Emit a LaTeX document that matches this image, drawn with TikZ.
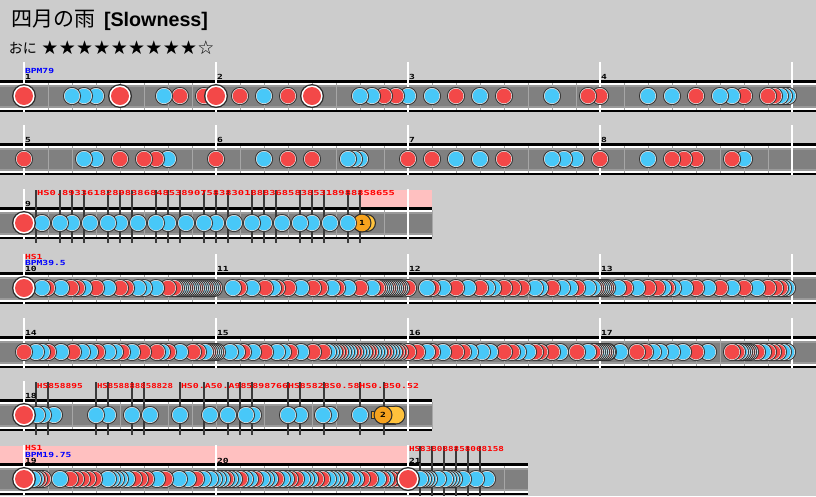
\documentclass[tikz,border=0pt]{standalone}
\usepackage{graphicx}
\usepackage{fontspec}
\setmainfont{Liberation Sans}
\newfontfamily\jpf{Noto Sans CJK JP}
\newfontfamily\symf{DejaVu Sans}
\newfontfamily\pixf{DejaVu Sans Mono}
\definecolor{bg}{HTML}{CCCCCC}
\definecolor{lanegray}{HTML}{808080}
\definecolor{laneedge}{HTML}{9A9A9A}
\definecolor{tick}{HTML}{A6A6A6}
\definecolor{R}{HTML}{F34848}
\definecolor{B}{HTML}{48C8F8}
\definecolor{rim}{HTML}{2E2E2E}
\definecolor{ring}{HTML}{DCDCDC}
\definecolor{pinkband}{HTML}{FFC0C0}
\definecolor{hsline}{HTML}{3A3A3A}
\definecolor{hsred}{HTML}{FF0000}
\definecolor{bpmblue}{HTML}{0000FF}
\definecolor{balhead}{HTML}{F6A21E}
\definecolor{balbody}{HTML}{FFC23C}
\newcommand\snote[3]{\fill[rim] (#1,#2) circle (9pt); \fill[ring] (#1,#2) circle (8.1pt); \fill[#3] (#1,#2) circle (7.3pt);}
\newcommand\bnote[3]{\fill[rim] (#1,#2) circle (12pt); \fill[white] (#1,#2) circle (10.6pt); \fill[#3] (#1,#2) circle (9pt);}
\newcommand\lanestrip[3]{%
  \fill[black] (#2,#1-16) rectangle (#3,#1-13.5);
  \fill[white] (#2,#1-13.5) rectangle (#3,#1-11.5);
  \fill[laneedge] (#2,#1-11.5) rectangle (#3,#1+11.5);
  \fill[lanegray] (#2,#1-9.5) rectangle (#3,#1+9.5);
  \fill[white] (#2,#1+11.5) rectangle (#3,#1+13.5);
  \fill[black] (#2,#1+13.5) rectangle (#3,#1+16);}
\newcommand\ticks[2]{\foreach \t in {48,72,...,#2} {\fill[tick] (\t-0.5,#1-13.5) rectangle (\t+0.5,#1+13.5);}}
\newcommand\barline[2]{\fill[white] (#1-1,#2-34) rectangle (#1+1,#2+16);}
\newcommand\densenotes[5]{\foreach \x in {#2,#3,...,#4} {\pgfmathtruncatemacro\k{mod(\x*7+#5,5)}\ifnum\k<2 \snote{\x}{#1}{R}\else\snote{\x}{#1}{B}\fi}}
\newcommand\pxt[1]{\scalebox{1.38}[1]{\pixf\bfseries\fontsize{7}{7}\selectfont #1}}
\newcommand\pxw[2]{\resizebox{#1pt}{5.1pt}{\pixf\bfseries\fontsize{7}{7}\selectfont #2}}
\tikzset{lbl/.style={anchor=base west, inner sep=0pt, outer sep=0pt}}
\begin{document}
\begin{tikzpicture}[x=1pt,y=-1pt]
\useasboundingbox (0,0) rectangle (816,496);
\fill[bg] (0,0) rectangle (816,496);
% header
\node[lbl, font=\jpf\fontsize{21}{21}\selectfont] (title) at (12,26) {四月の雨};
\node[lbl, font=\bfseries\fontsize{19.7}{20}\selectfont] (diff) at (104,26) {[Slowness]};
\node[inner sep=0pt, font=\jpf\fontsize{14}{14}\selectfont] (oni) at (23,48) {おに};
\foreach \i in {0,...,8} {\node[inner sep=0pt, font=\symf\fontsize{19}{19}\selectfont] (star\i) at (50+17.33*\i,48) {★};}
\node[inner sep=0pt, font=\symf\fontsize{19}{19}\selectfont] (star9) at (206,48) {☆};
% pink bands
\fill[pinkband] (361,190) rectangle (432,207);
\fill[pinkband] (0,446) rectangle (408,463);
% lanes
\lanestrip{96}{0}{816}\lanestrip{159}{0}{816}\lanestrip{223}{0}{432}
\lanestrip{288}{0}{816}\lanestrip{352}{0}{816}\lanestrip{415}{0}{432}\lanestrip{479}{0}{528}
\ticks{96}{816}\ticks{159}{816}\ticks{223}{432}\ticks{288}{816}\ticks{352}{816}\ticks{415}{432}\ticks{479}{504}
% bar lines
\foreach \yy in {96,159,288,352} {\foreach \bx in {24,216,408,600,792} {\barline{\bx}{\yy}}}
\barline{24}{223}\barline{408}{223}
\barline{24}{415}\barline{408}{415}
\barline{24}{479}\barline{216}{479}\barline{408}{479}
% HS markers
\foreach \hx in {36,60,72,84,108,120,132,156,168,180,204,216,228,252,264,276,300,312,324,348,360} {\fill[hsline] (\hx-1,190) rectangle (\hx+1,243);}
\foreach \hx in {36,48,96,108,132,144,180,204,228,240,252,288,300,324,360,384} {\fill[hsline] (\hx-1,382) rectangle (\hx+1,435);}
\foreach \hx in {420,432,444,456,468,480} {\fill[hsline] (\hx-1,446) rectangle (\hx+1,496);}
% row 1
\foreach \x/\c in {788/B,784/B,780/B,774/R,768/R,744/R,732/B,720/B,696/R,672/B,648/B,600/R,588/R,552/B,504/R,480/B,456/R,432/B,408/B,396/R,384/R,372/B,360/B,288/R,264/B,240/R,204/R,180/R,164/B,96/B,84/B,72/B} {\snote{\x}{96}{\c}}
\foreach \x in {312,216,120,24} {\bnote{\x}{96}{R}}
% row 2
\foreach \x/\c in {744/B,732/R,696/R,684/R,672/R,648/B,600/R,576/B,564/B,552/B,504/R,480/B,456/B,432/R,408/R,360/B,354/B,348/B,312/R,288/R,264/B,216/R,168/B,156/R,144/R,120/R,96/B,84/B,24/R} {\snote{\x}{159}{\c}}
% row 3
\fill[rim] (367,223) circle (9pt); \fill[balbody] (367,223) circle (7.8pt);
\fill[rim] (362,223) circle (9.5pt); \fill[balhead] (362,223) circle (8.3pt);
\node[inner sep=0pt] (bal1) at (362,223) {\pxt{1}};
\foreach \x in {348,330,312,300,282,264,252,234,216,204,186,168,156,138,120,108,90,72,60,42} {\snote{\x}{223}{B}}
\bnote{24}{223}{R}
% row 4
\foreach \x/\c in {787/B,783/B,780/R,775/R,768/R,757/B,744/R,732/B,720/R,708/B,696/R,685/B,673/B,667/R,663/B,657/R,648/R,637/B,625/R,618/B} {\snote{\x}{288}{\c}}
\densenotes{288}{607}{605}{592}{1}
\foreach \x/\c in {588/B,577/R,570/B,562/B,552/R,540/B,535/B,522/R,513/R,504/R,493/B,487/B,480/R,468/B,456/R,443/B,432/R,427/B,408/R} {\snote{\x}{288}{\c}}
\densenotes{288}{401}{399}{377}{2}
\foreach \x/\c in {372/B,360/R,348/B,337/R,332/B,320/R,313/R,301/B,288/R,277/R,273/B,265/R,252/B,239/R,233/B} {\snote{\x}{288}{\c}}
\densenotes{288}{214}{212}{174}{3}
\foreach \x/\c in {168/R,156/B,144/B,138/B,126/R,120/R,108/B,96/R,84/B,77/R,71/R,61/B,47/R,42/B} {\snote{\x}{288}{\c}}
\bnote{24}{288}{R}
% row 5
\foreach \x/\c in {787/B,783/B,778/R,773/R,768/R,763/B,757/R} {\snote{\x}{352}{\c}}
\densenotes{352}{750}{748}{740}{4}
\foreach \x/\c in {737/R,732/R,708/B,696/R,683/B,672/B,660/B,653/B,645/R,637/R,620/B,608/B} {\snote{\x}{352}{\c}}
\densenotes{352}{607}{605}{593}{0}
\foreach \x/\c in {588/B,577/R,560/B,552/R,540/R,535/R,528/B,518/B,512/R,504/R,490/B,482/B,470/B,463/R,456/R,443/B,432/R,427/B,417/R,408/R} {\snote{\x}{352}{\c}}
\densenotes{352}{400}{397}{328}{1}
\foreach \x/\c in {323/R,313/R,301/B,290/R,283/B,277/B,265/R,253/B,243/R,237/B,230/B} {\snote{\x}{352}{\c}}
\densenotes{352}{217}{215}{207}{2}
\foreach \x/\c in {205/B,198/R,193/R,180/B,168/R,162/B,157/R,143/R,132/B,122/R,115/B,108/B,97/R,90/B,82/B,73/R,61/B,48/R,42/B,36/B,24/R} {\snote{\x}{352}{\c}}
% row 6
\fill[rim] (383,405.5) rectangle (396,424.5); \fill[rim] (396,415) circle (9.5pt);
\fill[balbody] (383,406.7) rectangle (396,423.3); \fill[balbody] (396,415) circle (8.3pt);
\fill[rim] (371,411) rectangle (383,419); \fill[balhead] (372,412) rectangle (383,418);
\fill[rim] (383,415) circle (9.5pt); \fill[balhead] (383,415) circle (8.3pt);
\node[inner sep=0pt] (bal2) at (383,415) {\pxt{2}};
\foreach \x in {360,330,323,300,288,253,246,228,210,180,150,132,108,96,54,43,37} {\snote{\x}{415}{B}}
\bnote{24}{415}{R}
% row 7
\foreach \x in {487,476,463,454,451,448,445,438,429,426,423,420} {\snote{\x}{479}{B}}
\foreach \x/\c in {396/R,390/R,386/B,382/R,378/B,370/R,362/R,356/B,352/B,346/R,340/B,336/B,332/B,328/B,322/R,316/R,310/B,306/B,302/B,296/R,290/R,286/B,282/B,276/R,270/B,266/B,262/B,255/R,250/B,245/B,240/R,234/B,230/B,226/R,222/B,218/B,214/B,210/B,203/B,196/R,188/B,179/B,165/R,157/B,146/R,140/R,134/R,127/B,120/B,116/B,112/B,108/B,94/R,88/R,82/R,76/R,70/R,60/B,43/R,39/R,36/B,33/B} {\snote{\x}{479}{\c}}
\bnote{408}{479}{R}
\bnote{24}{479}{R}
% labels
\node[lbl, text=bpmblue] (bpm1) at (25,73) {\pxt{BPM79}};
\node[lbl] (n1) at (25,79) {\pxt{1}};
\node[lbl] (n2) at (217,79) {\pxt{2}};
\node[lbl] (n3) at (409,79) {\pxt{3}};
\node[lbl] (n4) at (601,79) {\pxt{4}};
\node[lbl] (n5) at (25,142) {\pxt{5}};
\node[lbl] (n6) at (217,142) {\pxt{6}};
\node[lbl] (n7) at (409,142) {\pxt{7}};
\node[lbl] (n8) at (601,142) {\pxt{8}};
\node[lbl, text=hsred] (hs9) at (37,195.5) {\pxw{358}{HS0.893361828983868485389075838301888368583853189888S8655}};
\node[lbl] (n9) at (25,206) {\pxt{9}};
\node[lbl, text=hsred] (hs10) at (25,259) {\pxt{HS1}};
\node[lbl, text=bpmblue] (bpm10) at (25,265) {\pxt{BPM39.5}};
\node[lbl] (n10) at (25,271) {\pxt{10}};
\node[lbl] (n11) at (217,271) {\pxt{11}};
\node[lbl] (n12) at (409,271) {\pxt{12}};
\node[lbl] (n13) at (601,271) {\pxt{13}};
\node[lbl] (n14) at (25,335) {\pxt{14}};
\node[lbl] (n15) at (217,335) {\pxt{15}};
\node[lbl] (n16) at (409,335) {\pxt{16}};
\node[lbl] (n17) at (601,335) {\pxt{17}};
\node[lbl, text=hsred] (hs18a) at (37,388) {\pxw{46}{HS858895}};
\node[lbl, text=hsred] (hs18b) at (97,388) {\pxw{76}{HS858888858828}};
\node[lbl, text=hsred] (hs18c) at (181,388) {\pxw{238}{HS0.A50.A985898766HS85828S0.58HS0.850.52}};
\node[lbl] (n18) at (25,398) {\pxt{18}};
\node[lbl, text=hsred] (hs19) at (25,450.5) {\pxt{HS1}};
\node[lbl, text=bpmblue] (bpm19) at (25,457) {\pxt{BPM19.75}};
\node[lbl] (n19) at (25,463) {\pxt{19}};
\node[lbl] (n20) at (217,463) {\pxt{20}};
\node[lbl] (n21) at (409,463) {\pxt{21}};
\node[lbl, text=hsred] (hs21) at (409,451) {\pxw{95}{HS838088858068158}};
\end{tikzpicture}
\end{document}
